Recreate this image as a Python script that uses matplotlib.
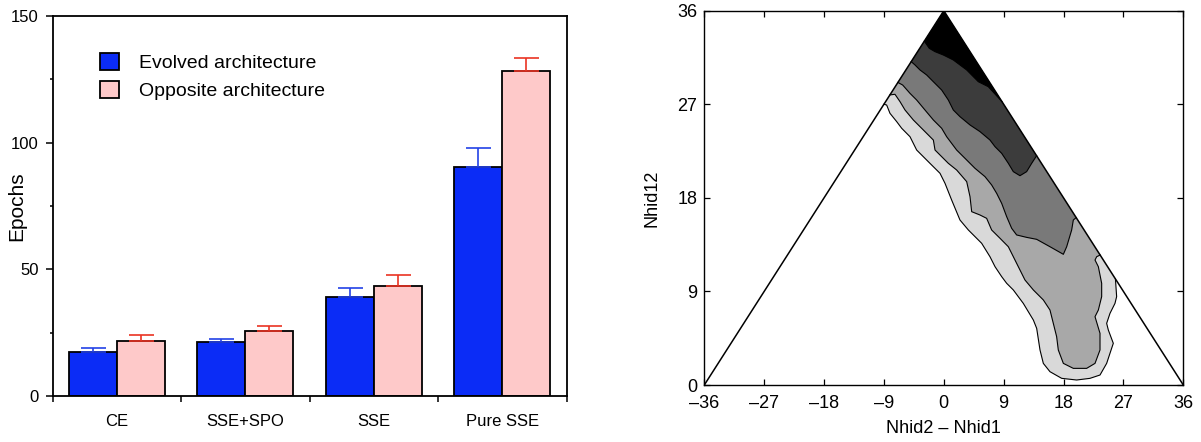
import numpy as np
import matplotlib
matplotlib.use("Agg")
import matplotlib.pyplot as plt

plt.rcParams["font.family"] = ["Liberation Sans", "DejaVu Sans"]

# ---------------------------------------------------------
# Bar chart data: training epochs per error function
# ---------------------------------------------------------
categories = ["CE", "SSE+SPO", "SSE", "Pure SSE"]
evolved_mean = [17.5, 21.3, 39.0, 90.3]
evolved_err = [1.3, 1.3, 3.7, 7.6]
opposite_mean = [21.9, 25.5, 43.6, 128.3]
opposite_err = [2.1, 2.2, 4.2, 5.3]

# ---------------------------------------------------------
# Contour data: boundary lines of each density level inside the
# triangle (Nhid2 - Nhid1, Nhid12), lightest level first
# ---------------------------------------------------------
level1_x = [-9.0, -8.59, -8.09, -7.08, -6.33, -5.08, -4.08, -2.08, -0.57, 0.18,
            1.18, 2.43, 3.69, 4.94, 5.69, 6.94, 7.70, 8.70, 9.45, 10.45,
            11.95, 13.46, 13.96, 14.46, 14.96, 15.96, 17.72, 19.97, 21.97, 23.48,
            24.48, 24.98, 25.48, 24.73, 24.48, 24.98, 25.73, 25.98, 25.8]
level1_y = [27.0, 26.93, 26.13, 25.33, 24.69, 23.88, 22.60, 21.32, 20.36, 19.40,
            17.79, 15.87, 14.91, 14.11, 13.63, 12.34, 11.38, 10.42, 9.78, 9.14,
            7.85, 6.25, 5.45, 3.37, 2.08, 1.28, 0.64, 0.48, 0.64, 0.96,
            2.08, 3.05, 4.01, 5.29, 5.93, 6.89, 7.85, 8.50, 10.2]

level2_x = [-8.1, -7.34, -6.58, -5.83, -4.58, -3.08, -1.57, -1.32, 0.68, 1.93,
            3.44, 3.94, 4.19, 5.44, 6.44, 7.19, 8.45, 9.70, 10.45, 11.20,
            12.20, 13.46, 14.96, 15.96, 16.46, 16.96, 17.21, 17.97, 19.47, 21.47,
            22.73, 23.48, 23.48, 22.73, 23.23, 23.73, 23.73, 23.23, 22.73, 22.98, 23.5]
level2_y = [27.9, 27.96, 27.25, 26.45, 25.49, 24.53, 23.56, 22.60, 21.32, 20.68,
            19.56, 18.11, 16.67, 16.35, 16.03, 14.91, 14.11, 13.30, 12.34, 11.38,
            10.10, 9.14, 8.18, 7.21, 5.93, 4.65, 3.37, 2.08, 1.60, 1.60,
            2.08, 3.37, 4.97, 6.57, 7.21, 8.50, 9.78, 11.38, 12.02, 12.34, 12.5]

level3_x = [-6.9, -6.18, -5.08, -4.08, -2.83, -1.57, -0.32, 0.43, 1.93, 3.44,
            4.69, 6.19, 7.19, 7.95, 8.70, 9.45, 10.20, 10.95, 12.45, 13.96,
            15.96, 17.97, 18.47, 19.22, 19.47, 19.9]
level3_y = [29.1, 28.85, 28.05, 27.41, 26.45, 25.49, 24.69, 23.88, 22.60, 21.64,
            20.84, 20.04, 19.24, 18.43, 17.47, 16.19, 15.07, 14.43, 14.20, 14.01,
            13.30, 12.57, 13.30, 14.91, 15.87, 16.1]

level4_x = [-4.9, -4.33, -3.58, -2.58, -1.57, -0.32, 0.68, 1.43, 2.43, 3.94,
            5.44, 6.94, 7.70, 8.70, 9.70, 10.45, 11.45, 12.45, 13.21, 13.95]
level4_y = [31.1, 30.78, 30.30, 29.82, 29.17, 28.37, 27.41, 26.45, 25.81, 25.01,
            24.37, 23.56, 22.92, 22.28, 21.32, 20.52, 20.13, 20.52, 21.32, 22.05]

level5_x = [-2.93, -2.18, -1.32, -0.07, 1.43, 3.44, 5.19, 6.69, 8.75]
level5_y = [33.07, 32.38, 32.06, 31.74, 31.26, 30.30, 29.17, 28.69, 27.25]

level_lines = [(level1_x, level1_y), (level2_x, level2_y), (level3_x, level3_y),
               (level4_x, level4_y), (level5_x, level5_y)]
level_colors = ["#d9d9d9", "#a8a8a8", "#797979", "#3c3c3c", "#000000"]

triangle_x = [-36, 0, 36]
triangle_y = [0, 36, 0]

# ---------------------------------------------------------
# Figure layout
# ---------------------------------------------------------
fig = plt.figure(figsize=(12.01, 4.42), dpi=100)
ax1 = fig.add_axes([52.5 / 1201, 46 / 442, 514 / 1201, 380 / 442])
ax2 = fig.add_axes([704.3 / 1201, 57 / 442, 479 / 1201, 374.3 / 442])

# ---------------------------------------------------------
# Left: bar chart
# ---------------------------------------------------------
x = np.arange(len(categories))
w = 0.372

ax1.bar(x - w / 2, evolved_mean, w, color="#0b2cf6", edgecolor="black",
        linewidth=1.3, label="Evolved architecture", zorder=2)
ax1.bar(x + w / 2, opposite_mean, w, color="#fec9c9", edgecolor="black",
        linewidth=1.3, label="Opposite architecture", zorder=2)

ax1.errorbar(x - w / 2, evolved_mean, yerr=[np.zeros(4), evolved_err],
             fmt="none", ecolor="#2342e6", elinewidth=1.2, capsize=9,
             capthick=1.2, zorder=3)
ax1.errorbar(x + w / 2, opposite_mean, yerr=[np.zeros(4), opposite_err],
             fmt="none", ecolor="#ea3323", elinewidth=1.2, capsize=9,
             capthick=1.2, zorder=3)

ax1.set_xlim(-0.5, 3.5)
ax1.set_ylim(0, 150)
ax1.set_xticks([-0.5, 0.5, 1.5, 2.5, 3.5])
ax1.set_xticklabels([])
ax1.set_xticks(x, minor=True)
ax1.set_xticklabels(categories, minor=True, fontsize=12)
ax1.tick_params(axis="x", which="major", direction="out", length=4, width=1.1)
ax1.tick_params(axis="x", which="minor", length=0, pad=13)
ax1.set_yticks([0, 50, 100, 150])
ax1.set_yticks([25, 75, 125], minor=True)
ax1.tick_params(axis="y", which="major", direction="out", length=5, width=1.1,
                labelsize=12, pad=5)
ax1.tick_params(axis="y", which="minor", direction="out", length=2.5, width=1.1)
ax1.set_ylabel("Epochs", fontsize=15)
ax1.yaxis.set_label_coords(-0.052, 0.5)
for s in ax1.spines.values():
    s.set_linewidth(1.3)

ax1.legend(loc="upper left", bbox_to_anchor=(0.058, 0.95), frameon=False,
           fontsize=14, handlelength=1.0, handleheight=1.0, handletextpad=1.0,
           labelspacing=0.45)

# ---------------------------------------------------------
# Right: filled contour levels inside the triangle
# ---------------------------------------------------------
for (lx, ly), col in zip(level_lines, level_colors):
    # region above each boundary, closed along the triangle's right edge
    ax2.fill(list(lx) + [0], list(ly) + [36], color=col, lw=0, zorder=1)
    ax2.plot(lx, ly, color="black", lw=0.8, zorder=2)

ax2.plot(triangle_x, triangle_y, color="black", lw=1.1, zorder=3,
         solid_joinstyle="miter")

ax2.set_xlim(-36, 36)
ax2.set_ylim(0, 36)
ticks_x = np.arange(-36, 37, 9)
ax2.set_xticks(ticks_x)
ax2.set_xticklabels([str(t).replace("-", "\u2013") for t in ticks_x])
ax2.set_yticks(np.arange(0, 37, 9))
ax2.tick_params(direction="in", length=4, width=0.9, top=True, right=True,
                labelsize=13)
ax2.tick_params(axis="x", pad=7)
ax2.tick_params(axis="y", pad=5)
ax2.set_xlabel("Nhid2 \u2013 Nhid1", fontsize=13, labelpad=6)
ax2.set_ylabel("Nhid12", fontsize=13, labelpad=12)
for s in ax2.spines.values():
    s.set_linewidth(1.0)

plt.savefig("out.png", dpi=100)
plt.close()
